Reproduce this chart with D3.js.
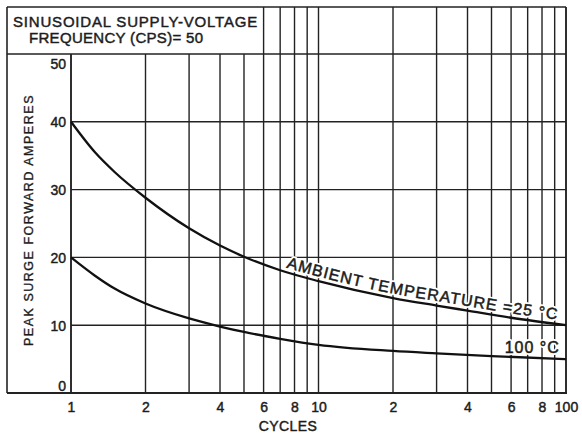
<!DOCTYPE html>
<html>
<head>
<meta charset="utf-8">
<script src="https://cdn.jsdelivr.net/npm/d3@7"></script>
<style>
  html, body { margin: 0; padding: 0; background: #fff; }
  svg { display: block; }
  text { font-family: "Liberation Sans", "DejaVu Sans", sans-serif; fill: #1c1c1c; }
</style>
</head>
<body>
<svg id="chart" width="582" height="436"></svg>
<script>
// Surge rating curves (peak surge forward amperes vs. number of cycles)
const cycles25 = [1, 1.25, 1.5, 2, 3, 4, 5, 7, 10, 20, 30, 40, 60, 100];
const amps25   = [40, 35.5, 32.6, 28.8, 24.3, 21.75, 20.1, 18.1, 16.5, 14.0, 12.9, 12.15, 11.1, 10.0];
const cycles100 = [1, 1.25, 1.5, 2, 3, 4, 5, 7, 10, 20, 30, 50, 100];
const amps100   = [20, 17.3, 15.4, 13.2, 11.0, 9.8, 9.0, 8.0, 7.1, 6.2, 5.85, 5.45, 5.0];

const xTickValues = [1, 2, 4, 6, 8, 10, 20, 40, 60, 80, 100];
const xTickLabels = ["1", "2", "4", "6", "8", "10", "2", "4", "6", "8", "100"];
const yTickValues = [0, 10, 20, 30, 40, 50];

const titleLines = ["SINUSOIDAL  SUPPLY-VOLTAGE", "FREQUENCY (CPS)= 50"];
const yTitle = "PEAK  SURGE  FORWARD  AMPERES";
const xTitle = "CYCLES";
const label25 = "AMBIENT  TEMPERATURE =25 °C";
const label100 = "100 °C";

const svg = d3.select("#chart");
const ink = "#222";
const textInk = "#1c1c1c";

// frame geometry
const frame = { left: 7, top: 7, right: 566, bottom: 393 };
const plotLeft = 71;

const x = d3.scaleLog().domain([1, 100]).range([plotLeft, frame.right]);
const y = d3.scaleLinear().domain([0, 50]).range([frame.bottom, 54]);

// layers
const gGrid = svg.append("g");
const gHalo = svg.append("g");
const gCurves = svg.append("g");
const gText = svg.append("g");

// vertical grid: lines from 6 cycles upward run to the top border,
// the others stop under the title box
const gridX = x.ticks();
gGrid.selectAll("line.vx").data(gridX).join("line")
  .attr("x1", d => x(d)).attr("x2", d => x(d))
  .attr("y1", d => d >= 6 ? frame.top : y(50))
  .attr("y2", frame.bottom)
  .attr("stroke", ink).attr("stroke-width", 1.4);

// horizontal grid
gGrid.selectAll("line.hy").data(yTickValues.filter(v => v > 0 && v < 50)).join("line")
  .attr("x1", plotLeft).attr("x2", frame.right)
  .attr("y1", d => y(d)).attr("y2", d => y(d))
  .attr("stroke", ink).attr("stroke-width", 1.4);

// outer border, title box bottom (50 line) and baseline
function rule(x1, y1, x2, y2, w) {
  gGrid.append("line").attr("x1", x1).attr("y1", y1).attr("x2", x2).attr("y2", y2)
    .attr("stroke", ink).attr("stroke-width", w);
}
rule(frame.left, frame.top, frame.right, frame.top, 1.6);
rule(frame.left, y(50), frame.right, y(50), 1.6);
rule(frame.left, frame.bottom, frame.right + 1, frame.bottom, 1.8);
rule(frame.left, frame.top, frame.left, frame.bottom, 1.6);
rule(frame.right, frame.top, frame.right, frame.bottom, 1.6);
rule(plotLeft, y(50), plotLeft, frame.bottom, 1.6);

// stretch a text element to a target length with letter spacing
function fitText(sel, target) {
  const node = sel.node();
  const n = sel.text().length;
  const w = node.getComputedTextLength();
  if (n > 1) sel.attr("letter-spacing", (target - w) / (n - 1));
}
// slightly heavier lettering
function ink2(sel, w) {
  return sel.attr("stroke", textInk).attr("stroke-width", w || 0.45);
}

// title box
const t1 = ink2(gText.append("text").attr("x", 13).attr("y", 27)
  .attr("font-size", 15).text(titleLines[0]));
fitText(t1, 245);
const t2 = ink2(gText.append("text").attr("x", 29).attr("y", 43)
  .attr("font-size", 15).text(titleLines[1]));
fitText(t2, 174);

// x axis labels
const xAxis = d3.axisBottom(x).tickValues(xTickValues)
  .tickFormat((d, i) => xTickLabels[i]).tickSize(0).tickPadding(0);
const xa = gText.append("g").attr("transform", `translate(0,${frame.bottom})`).call(xAxis);
xa.select(".domain").remove();
xa.selectAll("text").attr("y", 9).attr("dy", "0.71em")
  .attr("font-size", 14).attr("fill", textInk)
  .attr("stroke", textInk).attr("stroke-width", 0.45)
  .style("font-family", '"Liberation Sans", "DejaVu Sans", sans-serif');

// y axis labels; the end labels sit inside the frame
const yAxis = d3.axisLeft(y).tickValues(yTickValues).tickSize(0).tickPadding(0);
const ya = gText.append("g").attr("transform", `translate(${plotLeft - 5},0)`).call(yAxis);
ya.select(".domain").remove();
ya.selectAll("text")
  .attr("font-size", 14).attr("fill", textInk)
  .attr("stroke", textInk).attr("stroke-width", 0.45)
  .style("font-family", '"Liberation Sans", "DejaVu Sans", sans-serif')
  .attr("dy", d => d === 50 ? "1.0em" : d === 0 ? "-0.15em" : "0.35em");

// axis titles
const yt = ink2(gText.append("text")
  .attr("transform", "translate(33,220) rotate(-90)")
  .attr("text-anchor", "middle").attr("font-size", 12.5).text(yTitle), 0.35);
fitText(yt, 255);
const xt = ink2(gText.append("text").attr("x", 288).attr("y", 431)
  .attr("text-anchor", "middle").attr("font-size", 14).text(xTitle));
fitText(xt, 58);

// curves
const line = d3.line().x(d => x(d[0])).y(d => y(d[1])).curve(d3.curveMonotoneX);
const data25 = cycles25.map((c, i) => [c, amps25[i]]);
const data100 = cycles100.map((c, i) => [c, amps100[i]]);

const path25 = gCurves.append("path").attr("id", "curve25").attr("d", line(data25))
  .attr("fill", "none").attr("stroke", "#111").attr("stroke-width", 2.3);
gCurves.append("path").attr("d", line(data100))
  .attr("fill", "none").attr("stroke", "#111").attr("stroke-width", 2.3);

// 25 °C label follows its curve, lifted just above it
const pNode = path25.node();
const total = pNode.getTotalLength();
function lengthAtX(px) {
  let lo = 0, hi = total;
  for (let k = 0; k < 40; k++) {
    const mid = (lo + hi) / 2;
    if (pNode.getPointAtLength(mid).x < px) lo = mid; else hi = mid;
  }
  return lo;
}
const startL = lengthAtX(x(7.3));
const endL = lengthAtX(x(92));

function curveLabel(layer, halo) {
  const t = layer.append("text").attr("font-size", 16);
  if (halo) {
    t.attr("fill", "#fff").attr("stroke", "#fff").attr("stroke-width", 4)
      .attr("stroke-linejoin", "round");
  } else {
    ink2(t, 0.5);
  }
  const tp = t.append("textPath").attr("href", "#curve25").attr("startOffset", startL);
  tp.append("tspan").attr("dy", -4.5).text(label25);
  const w = t.node().getComputedTextLength();
  t.attr("letter-spacing", ((endL - startL) - w) / (label25.length - 1));
  return t;
}
curveLabel(gHalo, true);
curveLabel(gText, false);

// 100 °C label above its curve
const lx = x(73), ly = y(5) - 6;
gHalo.append("text").attr("x", lx).attr("y", ly)
  .attr("text-anchor", "middle").attr("font-size", 16).attr("letter-spacing", 1)
  .attr("fill", "#fff").attr("stroke", "#fff").attr("stroke-width", 4)
  .attr("stroke-linejoin", "round").text(label100);
ink2(gText.append("text").attr("x", lx).attr("y", ly)
  .attr("text-anchor", "middle").attr("font-size", 16).attr("letter-spacing", 1)
  .text(label100), 0.5);
</script>
</body>
</html>
